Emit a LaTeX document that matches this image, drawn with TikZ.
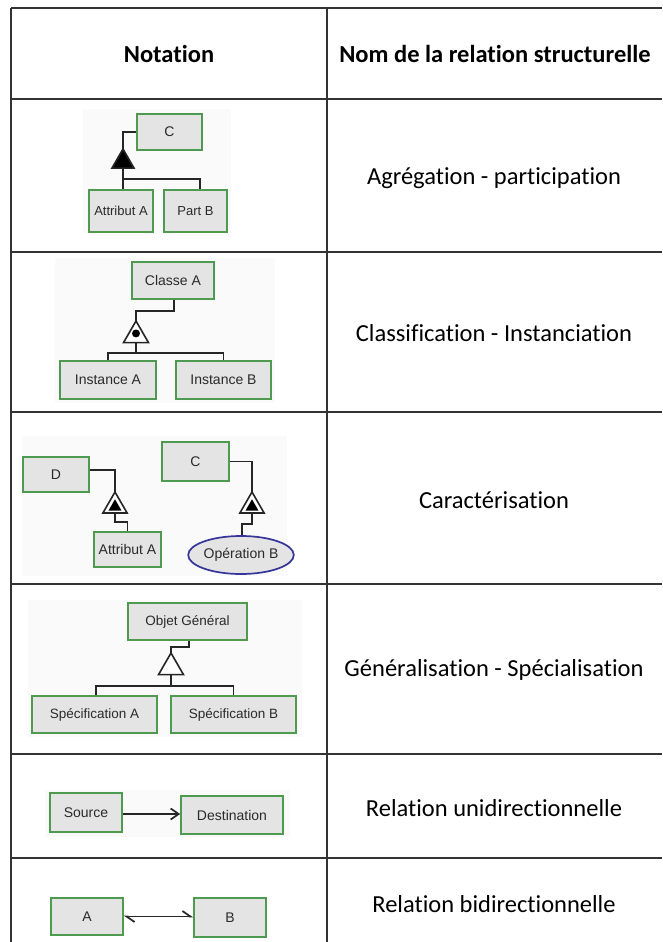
\documentclass[tikz,border=0pt]{standalone}
\usepackage{fontspec}
\setmainfont{Carlito}[Ligatures=NoCommon]
\newfontfamily\diagfont{Liberation Sans}
\usetikzlibrary{shapes.geometric,arrows.meta,calc}
\definecolor{boxgreen}{HTML}{4E9A4E}
\definecolor{boxfill}{HTML}{E4E4E4}
\definecolor{ovalblue}{HTML}{35359A}
\definecolor{gridline}{HTML}{333333}
\definecolor{imgbg}{HTML}{FAFAFA}
\definecolor{txtgray}{HTML}{2A2A2A}
\begin{document}
\begin{tikzpicture}[x=1pt,y=-1pt,
  tabline/.style={draw=gridline,line width=1.8pt},
  cellhead/.style={font=\fontsize{24.5}{28}\selectfont\bfseries,text=black},
  celltext/.style={font=\fontsize{24.5}{28}\selectfont,text=black},
  ent/.style={draw=boxgreen,fill=boxfill,line width=1.7pt,inner sep=0pt,text=txtgray,font=\diagfont\fontsize{14}{16}\selectfont},
  oval/.style={ellipse,draw=ovalblue,fill=boxfill,line width=1.7pt,inner sep=0pt,text=txtgray,font=\diagfont\fontsize{14}{16}\selectfont},
  link/.style={draw=black!85,line width=1.7pt},
  tri/.style={regular polygon,regular polygon sides=3,draw=black!85,line width=1.6pt,inner sep=0pt,outer sep=0pt,fill=white},
  imgback/.style={fill=imgbg,draw=none}
]
\useasboundingbox (0,0) rectangle (662,942);
\fill[white] (0,0) rectangle (662,942);

% faint image backgrounds
\path[imgback] (83,109) rectangle (231,233);
\path[imgback] (55,258) rectangle (275,403);
\path[imgback] (22,436) rectangle (287,576);
\path[imgback] (28,600) rectangle (302,737);
\path[imgback] (45,790) rectangle (290,837);

% table grid
\draw[tabline] (11,8) -- (662,8);
\draw[tabline] (11,8) -- (11,942);
\draw[tabline] (327,8) -- (327,942);
\foreach \yy in {99,252,412,584,754,858} {\draw[tabline] (11,\yy) -- (662,\yy);}

% headers and names
\node[cellhead] (h1) at (169,54) {Notation};
\node[cellhead] (h2) at (495,54) {Nom de la relation structurelle};
\node[celltext] (r1) at (494,178) {Agrégation - participation};
\node[celltext] (r2) at (494,333) {Classification - Instanciation};
\node[celltext] (r3) at (494,500) {Caractérisation};
\node[celltext] (r4) at (494,670) {Généralisation - Spécialisation};
\node[celltext] (r5) at (494,808) {Relation unidirectionnelle};
\node[celltext] (r6) at (494,904) {Relation bidirectionnelle};

% ---- row 1: aggregation
\node[ent,minimum width=65pt,minimum height=36pt] (C1) at (169.5,132) {C};
\node[ent,minimum width=64pt,minimum height=42pt,font=\diagfont\fontsize{13}{15}\selectfont] (AttA1) at (121,211) {Attribut A};
\node[ent,minimum width=63pt,minimum height=42pt,font=\diagfont\fontsize{13}{15}\selectfont] (PartB) at (195.5,211) {Part B};
\node[tri,fill=black,minimum size=25.4pt,anchor=north] (T1) at (123,149) {};
\coordinate (J1) at (123,179);
\draw[link] (C1.west) -| (T1.north);
\draw[link] (T1.south) -- (J1) -- (J1 |- AttA1.north);
\draw[link] (J1) -| ([xshift=4.5pt]PartB.north);

% ---- row 2: classification
\node[ent,minimum width=82pt,minimum height=37pt] (ClA) at (173,280.5) {Classe A};
\node[ent,minimum width=96pt,minimum height=38pt] (IA) at (108,380) {Instance A};
\node[ent,minimum width=95pt,minimum height=38pt] (IB) at (223.5,380) {Instance B};
\node[tri,minimum size=28.9pt,anchor=north] (T2) at (136,321) {};
\node[circle,fill=black,inner sep=0pt,minimum size=8pt] (dot2) at ([yshift=2pt]T2.center) {};
\coordinate (b2) at (136,311);
\coordinate (J2) at (136,353);
\draw[link] ([xshift=1pt]ClA.south) |- (b2) -- (T2.north);
\draw[link] (T2.south) -- (J2);
\draw[link] (IA.north) |- (J2) -| (IB.north);

% ---- row 3: characterisation
\node[ent,minimum width=66pt,minimum height=35pt] (D3) at (56,474.5) {D};
\node[ent,minimum width=67pt,minimum height=35pt] (AttA3) at (127.5,549.5) {Attribut A};
\node[ent,minimum width=67pt,minimum height=39pt] (C3) at (195.5,461.5) {C};
\node[oval,minimum width=84pt,minimum height=38pt] (OpB) at (241,555) {Opération B};
\node[tri,minimum size=28pt,anchor=north] (T3a) at (115,492) {};
\node[regular polygon,regular polygon sides=3,fill=black,inner sep=0pt,minimum size=15pt] (T3ai) at ([yshift=-0.8pt]T3a.center) {};
\node[tri,minimum size=28pt,anchor=north] (T3b) at (252,492) {};
\node[regular polygon,regular polygon sides=3,fill=black,inner sep=0pt,minimum size=15pt] (T3bi) at ([yshift=-0.8pt]T3b.center) {};
\coordinate (b3a) at (115,522);
\coordinate (b3b) at (252,524);
\draw[link] ([yshift=4.5pt]D3.east) -| (T3a.north);
\draw[link] (T3a.south) -- (b3a) -| (AttA3.north);
\draw[link] (C3.east) -| (T3b.north);
\draw[link] (T3b.south) -- (b3b) -| ([xshift=1pt]OpB.north);

% ---- row 4: generalisation
\node[ent,minimum width=119pt,minimum height=37pt,font=\diagfont\fontsize{13.5}{16}\selectfont] (OG) at (187.5,621.5) {Objet Général};
\node[ent,minimum width=125pt,minimum height=37pt,font=\diagfont\fontsize{13.5}{16}\selectfont] (SA) at (94.5,714.5) {Spécification A};
\node[ent,minimum width=125pt,minimum height=37pt,font=\diagfont\fontsize{13.5}{16}\selectfont] (SB) at (233.5,714.5) {Spécification B};
\node[tri,minimum size=28.9pt,anchor=north] (T4) at (171,653) {};
\coordinate (b4) at (171,647);
\coordinate (J4) at (171,686);
\draw[link] ([xshift=1.5pt]OG.south) |- (b4) -- (T4.north);
\draw[link] (T4.south) -- (J4);
\draw[link] ([xshift=1.5pt]SA.north) |- (J4) -| (SB.north);

% ---- row 5: unidirectional
\node[ent,minimum width=72pt,minimum height=39pt] (Src) at (86,812.5) {Source};
\node[ent,minimum width=102pt,minimum height=38pt] (Dst) at (232,815) {Destination};
\draw[link,-{Straight Barb[length=8pt,width=11pt]}] ([yshift=-1.5pt]Src.east) -- ([yshift=-1.5pt]Src.east -| Dst.west);

% ---- row 6: bidirectional
\node[ent,minimum width=72pt,minimum height=37pt] (A6) at (87,916.5) {A};
\node[ent,minimum width=72pt,minimum height=39pt] (B6) at (230,917.5) {B};
\draw[link,{Straight Barb[harpoon,length=8pt,width=11pt]}-{Straight Barb[harpoon,length=8pt,width=11pt]}] (A6.east) -- (A6.east -| B6.west);
\end{tikzpicture}
\end{document}
